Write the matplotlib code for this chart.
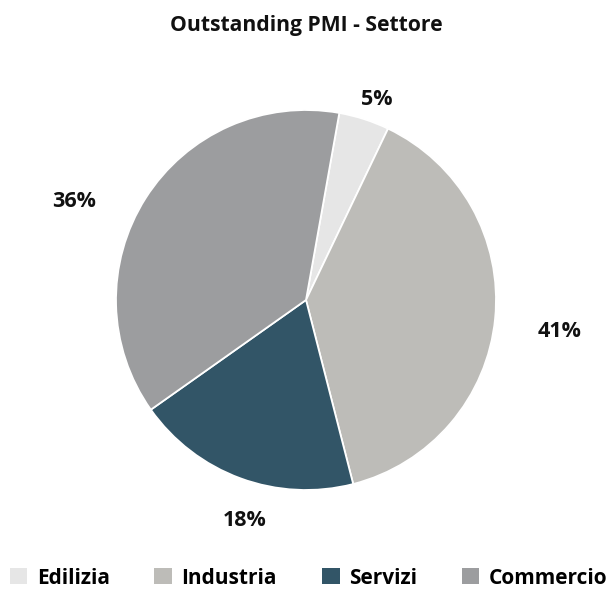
import matplotlib
matplotlib.use("Agg")
import matplotlib.pyplot as plt
from matplotlib.patches import Patch

categories = ["Edilizia", "Industria", "Servizi", "Commercio"]
shares = [4.3, 38.9, 19.2, 37.6]          # wedge sizes as drawn
pct_labels = ["5%", "41%", "18%", "36%"]  # printed labels
colors = ["#e6e6e6", "#bdbcb8", "#325567", "#9c9d9f"]

plt.rcParams['font.family'] = ['Open Sans', 'DejaVu Sans']

W, H = 612, 589
fig = plt.figure(figsize=(W / 100, H / 100), dpi=100)
ax = fig.add_axes([0, 0, 1, 1])
R = 190.0
cx, cy = 306.0, 300.0

wedges, _ = ax.pie(shares, colors=colors, startangle=79.9, counterclock=False,
                   radius=1.0, wedgeprops=dict(edgecolor='white', linewidth=1.3))
ax.set_xlim(-cx / R, (W - cx) / R)
ax.set_ylim(-(H - cy) / R, cy / R)
ax.set_aspect('equal')
ax.axis('off')

label_pos = [(0.374, 1.053), (1.337, -0.168), (-0.321, -1.163), (-1.221, 0.521)]
for (x, y), t in zip(label_pos, pct_labels):
    ax.text(x, y, t, ha='center', va='center', fontsize=15.5, fontweight='bold', color='#111111')

fig.text(0.5, 1 - 31 / H, "Outstanding PMI - Settore", ha='center', va='baseline',
         fontsize=15.2, fontweight='bold', color='#111111')

handles = [Patch(facecolor=c, edgecolor='none') for c in colors]
fig.legend(handles, categories, loc='center', bbox_to_anchor=(308.5 / W, 11 / H), ncol=4,
           frameon=False, handlelength=0.85, handleheight=0.8, handletextpad=0.45,
           columnspacing=2.15, borderpad=0, borderaxespad=0,
           prop=dict(size=15.0, weight='bold'))

fig.savefig("out.png", dpi=100)
